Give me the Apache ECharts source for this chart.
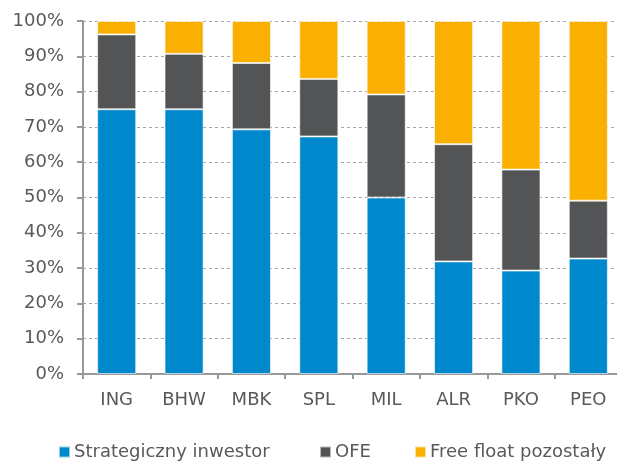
<!DOCTYPE html>
<html>
<head>
<meta charset="utf-8">
<script src="https://cdn.jsdelivr.net/npm/echarts@6/dist/echarts.min.js"></script>
<style>
  html, body { margin: 0; padding: 0; background: #fff; }
  #chart { width: 617px; height: 461px; }
</style>
</head>
<body>
<div id="chart"></div>
<script>
// Struktura akcjonariatu banków (udział w %)
const banks = ['ING', 'BHW', 'MBK', 'SPL', 'MIL', 'ALR', 'PKO', 'PEO'];
const strategic = [75.0, 75.0, 69.3, 67.3, 50.0, 31.9, 29.3, 32.7];
const ofe       = [21.2, 15.7, 18.8, 16.3, 29.2, 33.2, 28.6, 16.4];
const freeFloat = [3.8, 9.3, 11.9, 16.4, 20.8, 34.9, 42.1, 50.9];
const seriesNames = ['Strategiczny inwestor', 'OFE', 'Free float pozostały'];
const yTicks = [0, 10, 20, 30, 40, 50, 60, 70, 80, 90, 100];

const FONT = 'DejaVu Sans';
const TXT = '#595959';
const FS = 18;

const bar = (name, data, color) => ({
  name,
  type: 'bar',
  stack: 'total',
  data,
  barWidth: '58%',
  itemStyle: { color, borderColor: 'rgba(255,255,255,0.6)', borderWidth: 1 },
  emphasis: { disabled: true },
});

// osobna legenda dla każdej serii, żeby trzymać odstępy jak w oryginale
const legendLeft = [58, 319, 414];
const legends = seriesNames.map((name, i) => ({
  top: 443,
  left: legendLeft[i],
  padding: 0,
  itemWidth: 11,
  itemHeight: 11,
  icon: 'rect',
  textStyle: { color: TXT, fontFamily: FONT, fontSize: FS, padding: [0, 0, 0, -1] },
  data: [name],
}));

const chart = echarts.init(document.getElementById('chart'));
chart.setOption({
  backgroundColor: '#fff',
  animation: false,
  textStyle: { fontFamily: FONT },
  grid: { left: 83, right: -5, top: 21, bottom: 87, outerBoundsMode: 'none' },
  legend: legends,
  xAxis: {
    type: 'category',
    data: banks,
    axisLine: { lineStyle: { color: '#999', width: 2 } },
    axisTick: { show: true, length: 5, lineStyle: { color: '#999', width: 2 } },
    axisLabel: { color: TXT, fontFamily: FONT, fontSize: FS, margin: 17 },
  },
  yAxis: {
    type: 'value',
    min: yTicks[0],
    max: yTicks[yTicks.length - 1],
    interval: 10,
    axisLine: { show: true, lineStyle: { color: '#999', width: 2 } },
    axisTick: { show: true, length: 6, lineStyle: { color: '#999', width: 2 } },
    axisLabel: { color: TXT, fontFamily: FONT, fontSize: FS, margin: 19, formatter: (v) => v + '%' },
    splitLine: { lineStyle: { color: '#a6a6a6', type: [3, 3], width: 1 } },
  },
  series: [
    bar(seriesNames[0], strategic, '#0088cc'),
    bar(seriesNames[1], ofe, '#535455'),
    bar(seriesNames[2], freeFloat, '#f9b000'),
  ],
});
</script>
</body>
</html>
